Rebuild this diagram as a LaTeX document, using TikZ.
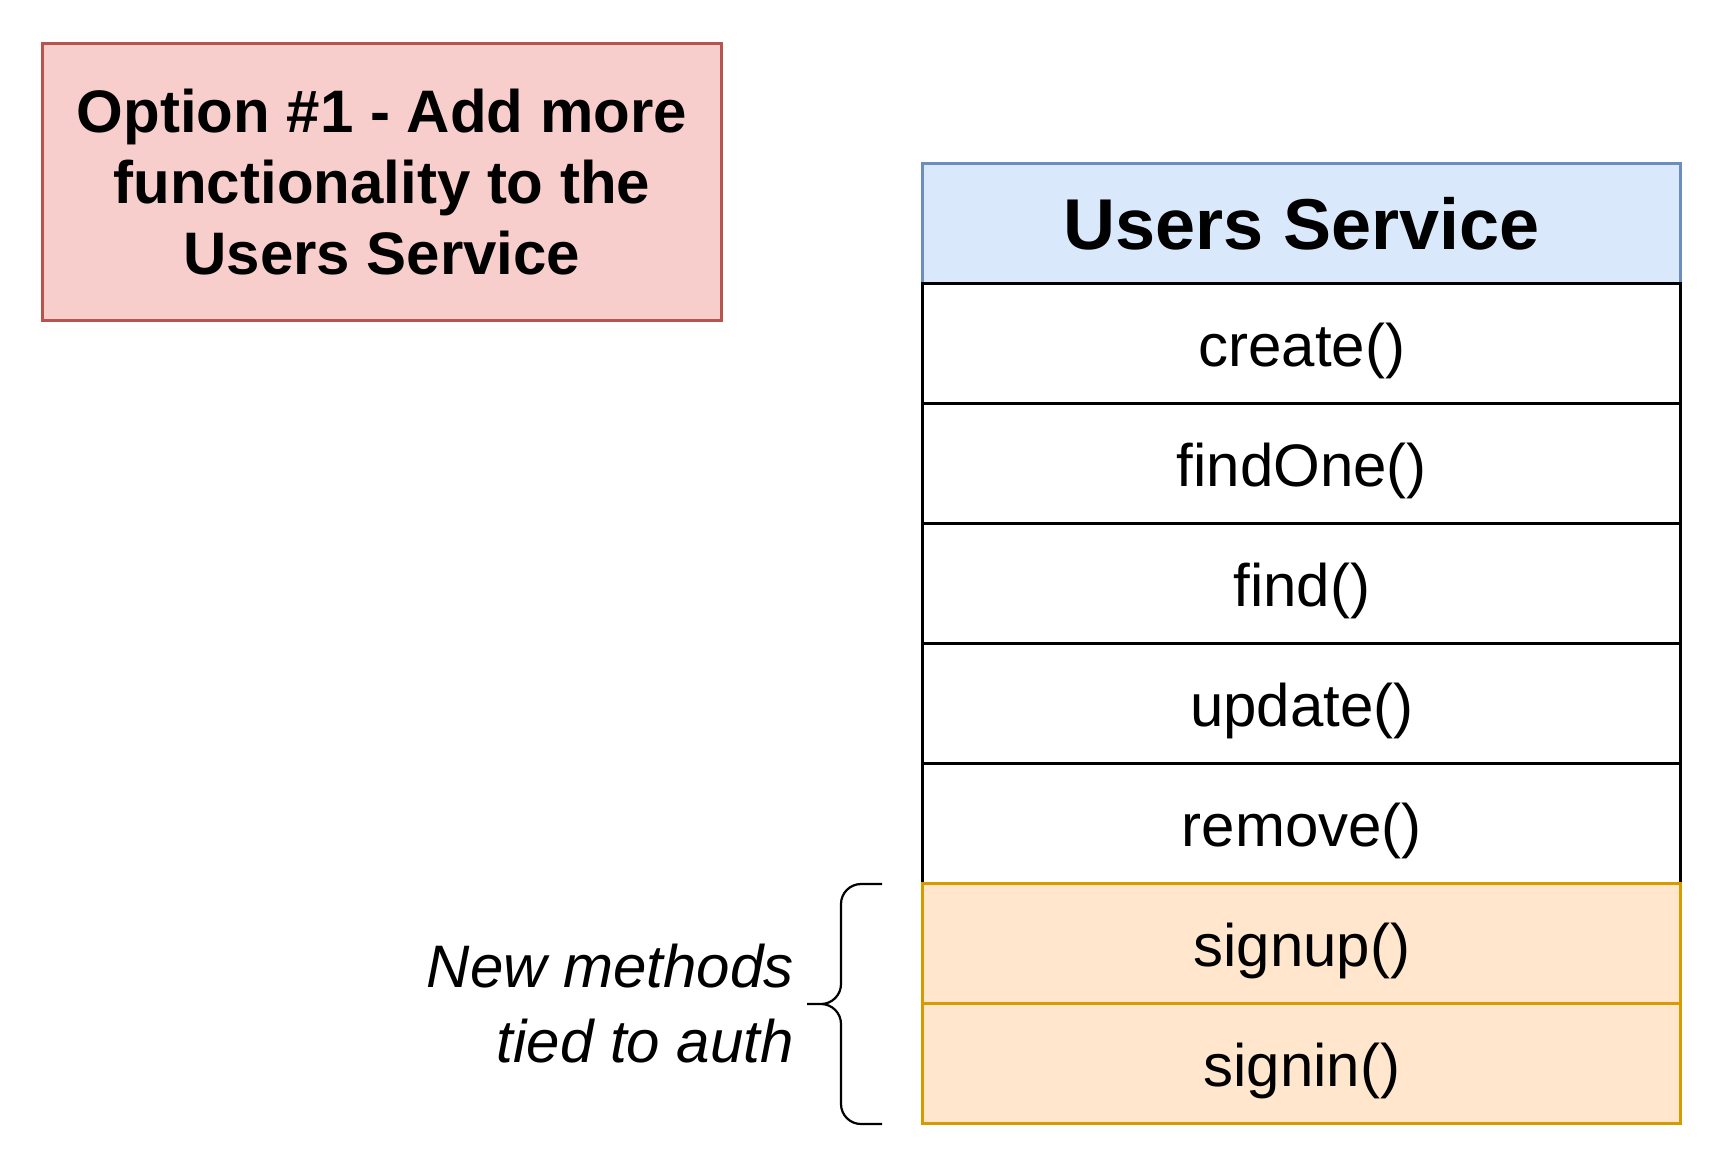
\documentclass[tikz,border=0pt]{standalone}
\usepackage{fontspec}
\setmainfont{Liberation Sans}
\usepackage{tikz}
\usetikzlibrary{matrix,positioning}
\definecolor{optfill}{HTML}{F8CECC}
\definecolor{optline}{HTML}{B85450}
\definecolor{headfill}{HTML}{DAE8FC}
\definecolor{headline}{HTML}{6C8EBF}
\definecolor{authfill}{HTML}{FFE6CC}
\definecolor{authline}{HTML}{D79B00}

\begin{document}
\begin{tikzpicture}[x=0.5pt,y=-0.5pt,
    method/.style={draw,line width=1.5pt,fill=white,minimum width=379pt,
      minimum height=60pt,inner sep=0pt,text height=23pt,text depth=0pt,
      font=\fontsize{30}{36}\selectfont},
    head/.style={fill=headfill,draw=headline,text height=26pt,
      font=\fontsize{36}{42}\selectfont\bfseries},
    auth/.style={fill=authfill,draw=authline}]
    \useasboundingbox (0,0) rectangle (1728,1168);
    \node[draw=optline,fill=optfill,line width=1.5pt,minimum width=339.5pt,
      minimum height=138.5pt,align=center,
      font=\fontsize{30}{35.5}\selectfont\bfseries] (opt) at (382,182)
      {Option \#1 - Add more\\functionality to the\\Users Service};
    \matrix(m)[matrix of nodes,anchor=north west,inner sep=0pt,row sep=-1.5pt,
      nodes={method}] at (921,162) {
      |[head]| Users Service\\
      create()\\
      findOne()\\
      find()\\
      update()\\
      remove()\\
      |[auth]| signup()\\
      |[auth]| signin()\\
    };
    \node[anchor=east,align=right,inner sep=0pt,
      font=\fontsize{30}{37.5}\selectfont\itshape] (note) at (794,1004)
      {New methods\\tied to auth};
    % curly bracket
    \draw[line width=1.1pt,rounded corners=10pt]
    (882,884) -| (841,1004) -- (807,1004)
    (882,1124) -| (841,1004) -- (807,1004);
  \end{tikzpicture}
\end{document}
